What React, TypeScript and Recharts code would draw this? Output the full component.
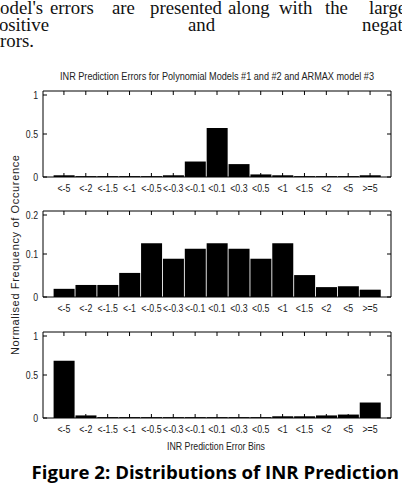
import React from "react";
import { BarChart, Bar, XAxis, YAxis } from "recharts";

// error bins shared by all three panels
const BINS = ["<-5", "<-2", "<-1.5", "<-1", "<-0.5", "<-0.3", "<-0.1", "<0.1", "<0.3", "<0.5", "<1", "<1.5", "<2", "<5", ">=5"];

// normalised frequency per bin
const POLY_MODEL_1 = [0.02, 0.01, 0.01, 0.01, 0.01, 0.02, 0.18, 0.57, 0.15, 0.03, 0.02, 0.01, 0.01, 0.01, 0.02];
const POLY_MODEL_2 = [0.019, 0.028, 0.028, 0.056, 0.125, 0.089, 0.112, 0.125, 0.112, 0.089, 0.125, 0.051, 0.023, 0.025, 0.017];
const ARMAX_MODEL_3 = [0.665, 0.03, 0.01, 0.01, 0.01, 0.01, 0.01, 0.01, 0.01, 0.01, 0.02, 0.02, 0.03, 0.04, 0.18];

const TICKS_UNIT = [0, 0.5, 1];
const TICKS_SMALL = [0, 0.1, 0.2];

const PLOT_W = 348;
const PLOT_H = 86;
const AXIS_FONT = "'Liberation Sans', Arial, sans-serif";

// matlab style: ticks point inwards, labels are narrow
const XTick = (props: any) => {
  const { x, y, payload } = props;
  return (
    <g>
      <line x1={x} x2={x} y1={y} y2={y - 4} stroke="#000" />
      <line x1={x} x2={x} y1={y - PLOT_H} y2={y - PLOT_H + 4} stroke="#000" />
      <text
        transform={`translate(${x},${y + 15}) scale(0.8,1)`}
        textAnchor="middle"
        fontSize={11}
        fontFamily={AXIS_FONT}
        fill="#222"
      >
        {payload.value}
      </text>
    </g>
  );
};

const YTick = (props: any) => {
  const { x, y, payload } = props;
  const ax = x + 5;
  return (
    <g>
      <line x1={ax} x2={ax + 4} y1={y} y2={y} stroke="#000" />
      <line x1={ax + PLOT_W - 4} x2={ax + PLOT_W} y1={y} y2={y} stroke="#000" />
      <text
        transform={`translate(${x},${y + 4}) scale(0.76,1)`}
        textAnchor="end"
        fontSize={11.5}
        fontFamily={AXIS_FONT}
        fill="#222"
      >
        {payload.value}
      </text>
    </g>
  );
};

interface PanelProps {
  values: number[];
  top: number;
  yMax: number;
  ticks: number[];
}

const Panel: React.FC<PanelProps> = ({ values, top, yMax, ticks }) => {
  const rows = BINS.map((bin, i) => ({ bin, value: values[i] }));
  return (
    <div style={{ position: "absolute", left: 0, top }}>
      <BarChart
        width={402}
        height={111}
        data={rows}
        margin={{ top: 4, right: 10, bottom: 0, left: 0 }}
        barCategoryGap={0.6}
      >
        <XAxis
          dataKey="bin"
          height={20}
          interval={0}
          tickSize={0}
          tickMargin={0}
          tickLine={false}
          tick={<XTick />}
          padding={{ left: 10, right: 10 }}
          axisLine={{ stroke: "#000" }}
        />
        <XAxis
          xAxisId="top"
          orientation="top"
          dataKey="bin"
          height={1}
          tick={false}
          tickLine={false}
          axisLine={{ stroke: "#000" }}
        />
        <YAxis
          width={43}
          domain={[0, yMax]}
          ticks={ticks}
          allowDataOverflow
          tickSize={0}
          tickMargin={5}
          tickLine={false}
          tick={<YTick />}
          axisLine={{ stroke: "#000" }}
        />
        <YAxis
          yAxisId="right"
          orientation="right"
          width={1}
          domain={[0, yMax]}
          tick={false}
          tickLine={false}
          axisLine={{ stroke: "#000" }}
        />
        <Bar dataKey="value" fill="#000" isAnimationActive={false} />
      </BarChart>
    </div>
  );
};

const SERIF = "'Liberation Serif', 'Times New Roman', serif";

export default function App() {
  return (
    <div
      style={{
        position: "absolute",
        left: 0,
        top: 0,
        width: 402,
        height: 486,
        background: "#fff",
        overflow: "hidden",
      }}
    >
      <Panel values={POLY_MODEL_1} top={86} yMax={1} ticks={TICKS_UNIT} />
      <Panel values={POLY_MODEL_2} top={206} yMax={0.2} ticks={TICKS_SMALL} />
      <Panel values={ARMAX_MODEL_3} top={327} yMax={1} ticks={TICKS_UNIT} />
      <svg
        width={402}
        height={486}
        style={{ position: "absolute", left: 0, top: 0, pointerEvents: "none" }}
      >
        {/* running text of the page, clipped at the column edges like the scan */}
        <g fontFamily={SERIF} fontSize={18.8} fill="#111">
          <text x={-14.5} y={14}>model's</text>
          <text x={50} y={14}>errors</text>
          <text x={112} y={14}>are</text>
          <text x={150} y={14}>presented</text>
          <text x={228} y={14}>along</text>
          <text x={279} y={14}>with</text>
          <text x={325} y={14}>the</text>
          <text x={369} y={14}>largest</text>
          <text x={-10.5} y={30.5}>positive</text>
          <text x={188} y={30.5}>and</text>
          <text x={362} y={30.5}>negative</text>
          <text x={-14.5} y={47}>errors.</text>
        </g>
        <text
          x={217}
          y={79.5}
          textAnchor="middle"
          fontSize={11}
          fontFamily={AXIS_FONT}
          fill="#222"
          textLength={314}
          lengthAdjust="spacingAndGlyphs"
        >
          INR Prediction Errors for Polynomial Models #1 and #2 and ARMAX model #3
        </text>
        <text
          transform="translate(19,255) rotate(-90)"
          textAnchor="middle"
          fontSize={11}
          fontFamily={AXIS_FONT}
          fill="#222"
          textLength={200}
          lengthAdjust="spacing"
        >
          Normalised Frequency of Occurence
        </text>
        <text
          x={216}
          y={449.5}
          textAnchor="middle"
          fontSize={11}
          fontFamily={AXIS_FONT}
          fill="#222"
          textLength={98}
          lengthAdjust="spacingAndGlyphs"
        >
          INR Prediction Error Bins
        </text>
        <text
          x={31.5}
          y={479}
          fontSize={18.6}
          fontWeight="bold"
          fontFamily="'Open Sans', 'Noto Sans', sans-serif"
          fill="#000"
        >
          Figure 2: Distributions of INR Prediction
        </text>
      </svg>
    </div>
  );
}
